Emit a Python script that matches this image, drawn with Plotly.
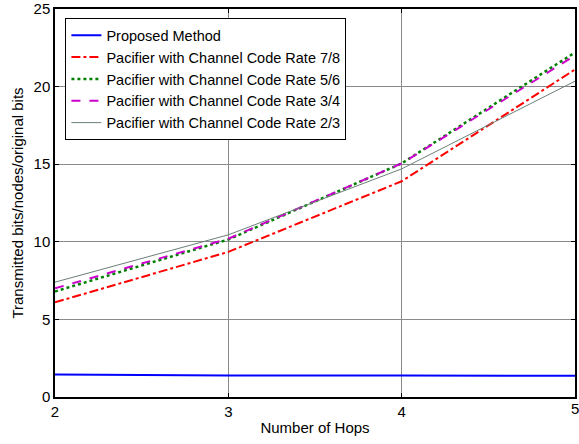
import plotly.graph_objects as go

hops = [2, 3, 4, 5]
proposed = [1.45, 1.38, 1.38, 1.37]
rate_7_8 = [6.1, 9.35, 13.9, 21.1]
rate_5_6 = [6.8, 10.15, 15.05, 22.2]
rate_3_4 = [7.0, 10.2, 15.05, 22.0]
rate_2_3 = [7.4, 10.45, 14.7, 20.35]

names = ["Proposed Method",
         "Pacifier with Channel Code Rate 7/8",
         "Pacifier with Channel Code Rate 5/6",
         "Pacifier with Channel Code Rate 3/4",
         "Pacifier with Channel Code Rate 2/3"]
series = [proposed, rate_7_8, rate_5_6, rate_3_4, rate_2_3]
styles = [dict(color="#0000ff", width=2, dash="solid"),
          dict(color="#ff0000", width=2, dash="dashdot"),
          dict(color="#008000", width=2.5, dash="dot"),
          dict(color="#cc00cc", width=2, dash="dash"),
          dict(color="#6a7f78", width=1, dash="solid")]

fig = go.Figure()
for n, s, st in zip(names, series, styles):
    fig.add_trace(go.Scatter(x=hops, y=s, mode="lines", name=n, line=st))

ff = "Arial, Liberation Sans, sans-serif"
fig.update_layout(
    width=579, height=444,
    margin=dict(l=55, r=4, t=9, b=47),
    paper_bgcolor="white", plot_bgcolor="white",
    font=dict(family=ff, size=14, color="black"),
    showlegend=True,
    legend=dict(x=0.02, y=0.976, xanchor="left", yanchor="top",
                bordercolor="black", borderwidth=1, bgcolor="white",
                font=dict(family=ff, size=14.5),
                tracegroupgap=0),
    xaxis=dict(range=[2, 5], tickvals=[2, 3, 4, 5], showgrid=True,
               gridcolor="#8a8a8a", gridwidth=1, zeroline=False,
               showline=True, linecolor="black", linewidth=1.5, mirror="ticks",
               ticks="inside", ticklen=4, tickcolor="black", automargin=False,
               tickfont=dict(size=15),
               title=dict(text="Number of Hops", font=dict(size=15), standoff=4)),
    yaxis=dict(range=[0, 25], tickvals=[0, 5, 10, 15, 20, 25], showgrid=True,
               gridcolor="#8a8a8a", gridwidth=1, zeroline=False,
               showline=True, linecolor="black", linewidth=1.5, mirror="ticks",
               ticks="inside", ticklen=4, tickcolor="black", automargin=False,
               tickfont=dict(size=15),
               title=dict(text="Transmitted bits/nodes/original bits", font=dict(size=15), standoff=6)),
)
# last x tick label, partly cut by the figure edge as in the reference
fig.add_annotation(x=hops[-1], xref="x", y=0, yref="paper", yanchor="top",
                   xanchor="center", text=str(hops[-1]), showarrow=False,
                   yshift=-1, font=dict(family=ff, size=15, color="black"))
fig.write_html("out.html")
